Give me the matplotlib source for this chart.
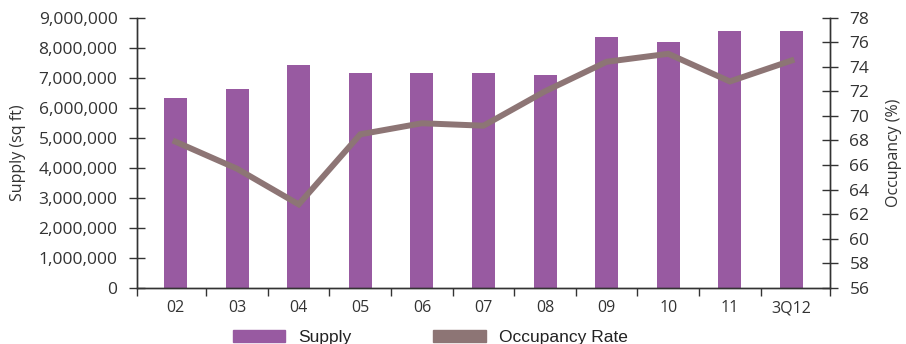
import numpy as np
import matplotlib.pyplot as plt
from matplotlib.patches import Patch
from matplotlib.ticker import FuncFormatter

plt.rcParams['font.family'] = 'Open Sans'

periods = ["02", "03", "04", "05", "06", "07", "08", "09", "10", "11", "3Q12"]
supply = [6310000, 6610000, 7410000, 7150000, 7150000, 7150000,
          7080000, 8350000, 8180000, 8540000, 8540000]
occupancy = [67.9, 65.7, 62.8, 68.5, 69.4, 69.2, 72.0, 74.4, 75.05, 72.8, 74.5]

bar_color = '#985AA1'
line_color = '#8D7575'
ink = '#333333'

fig = plt.figure(figsize=(9.06, 3.44), dpi=100)
ax1 = fig.add_axes([0.1512, 0.1628, 0.7649, 0.7863])
ax2 = ax1.twinx()

x = np.arange(len(periods))
ax1.bar(x, supply, width=0.373, color=bar_color, zorder=2)
ax2.plot(x, occupancy, color=line_color, lw=4.3, solid_joinstyle='miter')

ax1.set_xlim(-0.625, len(periods) - 0.375)
ax1.set_ylim(0, 9000000)
ax2.set_ylim(56, 78)

ax1.set_xticks(x)
ax1.set_xticklabels(periods)
ax1.set_xticks(list(np.arange(0.5, len(periods) - 1)) + list(ax1.get_xlim()), minor=True)
ax1.tick_params(axis='x', which='major', length=0, pad=9, labelsize=11.5, colors=ink)
ax1.tick_params(axis='x', which='minor', direction='out', length=6, width=1, color=ink)

ax1.set_yticks(np.arange(0, 9000001, 1000000))
ax1.yaxis.set_major_formatter(FuncFormatter(lambda v, p: f"{int(v):,}"))
ax1.tick_params(axis='y', direction='inout', length=12, width=1, pad=8,
                labelsize=12.5, colors=ink)
ax2.set_yticks(np.arange(56, 79, 2))
ax2.tick_params(axis='y', direction='inout', length=12, width=1, pad=8,
                labelsize=12.5, colors=ink)

ax1.set_ylabel("Supply (sq ft)", fontsize=11.5, color=ink, labelpad=9)
ax2.set_ylabel("Occupancy (%)", fontsize=11.5, color=ink, labelpad=12)

for ax in (ax1, ax2):
    ax.spines['top'].set_visible(False)
    for s in ('left', 'right', 'bottom'):
        ax.spines[s].set_color(ink)
        ax.spines[s].set_linewidth(1)

handles = [Patch(color=bar_color, label='Supply'),
           Patch(color=line_color, label='Occupancy Rate')]
fig.legend(handles=handles, loc='center', bbox_to_anchor=(0.475, 0.02),
           ncol=2, frameon=False, prop={'family': 'Liberation Sans', 'size': 12.5},
           handlelength=3.05, handleheight=0.7, handletextpad=0.75,
           columnspacing=4.7, labelcolor='#222222')

fig.savefig('out.png', dpi=100)
